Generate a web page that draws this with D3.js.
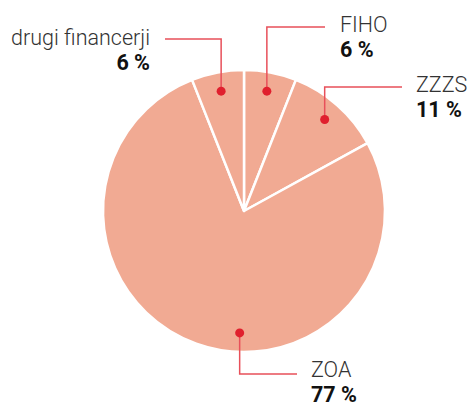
<!DOCTYPE html>
<html>
<head>
<meta charset="utf-8">
<script src="https://cdn.jsdelivr.net/npm/d3@7"></script>
<style>
  body { margin: 0; background: #fff; }
  text { font-family: Roboto, "Noto Sans", sans-serif; fill: #333; }
</style>
</head>
<body>
<div id="chart"></div>
<script>
var categories = ["FIHO", "ZZZS", "ZOA", "drugi financerji"]
  , values     = [6, 11, 77, 6]
  , labels     = ["6 %", "11 %", "77 %", "6 %"]
  ;

// callout layout: where the elbow goes and where the text sits
var callouts = [
  { turnY: 27,  endX: 325, textX: 340, anchor: "start", nameY: 32,  valY: 57 },
  { turnY: 87,  endX: 402, textX: 416, anchor: "start", nameY: 92,  valY: 117 },
  { turnY: 374, endX: 297, textX: 311, anchor: "start", nameY: 377, valY: 402, angleShift: -0.31 },
  { turnY: 39,  endX: 165, textX: 150, anchor: "end",   nameY: 45,  valY: 70 }
];

var width = 472, height = 406
  , cx = 244, cy = 211, radius = 141
  , dotR = 122
  ;

var svg = d3.select("#chart").append("svg")
  .attr("width", width)
  .attr("height", height);

var g = svg.append("g").attr("transform", "translate(" + cx + "," + cy + ")");

var pie = d3.pie().sort(null).value(function (d) { return d; })
  , arcs = pie(values)
  , arc = d3.arc().innerRadius(0).outerRadius(radius)
  ;

g.selectAll("path").data(arcs).enter().append("path")
  .attr("d", arc)
  .attr("fill", "#f1aa93")
  .attr("stroke", "#fff")
  .attr("stroke-width", 2.5)
  .attr("stroke-linejoin", "round");

arcs.forEach(function (d, i) {
  var c = callouts[i]
    , a = (d.startAngle + d.endAngle) / 2 + (c.angleShift || 0)
    , x = cx + dotR * Math.sin(a)
    , y = cy - dotR * Math.cos(a)
    ;

  svg.append("path")
    .attr("d", "M" + x + "," + y + "V" + c.turnY + "H" + c.endX)
    .attr("fill", "none")
    .attr("stroke", "#e8505a")
    .attr("stroke-width", 1.5);

  svg.append("circle")
    .attr("cx", x).attr("cy", y).attr("r", 4.5)
    .attr("fill", "#e0202e");

  svg.append("text")
    .attr("x", c.textX).attr("y", c.nameY)
    .attr("text-anchor", c.anchor)
    .style("font-size", "21.5px")
    .style("font-weight", 300)
    .text(categories[i]);

  svg.append("text")
    .attr("x", c.textX).attr("y", c.valY)
    .attr("text-anchor", c.anchor)
    .style("font-size", "21.5px")
    .style("font-weight", 700)
    .style("fill", "#111")
    .text(labels[i]);
});
</script>
</body>
</html>
